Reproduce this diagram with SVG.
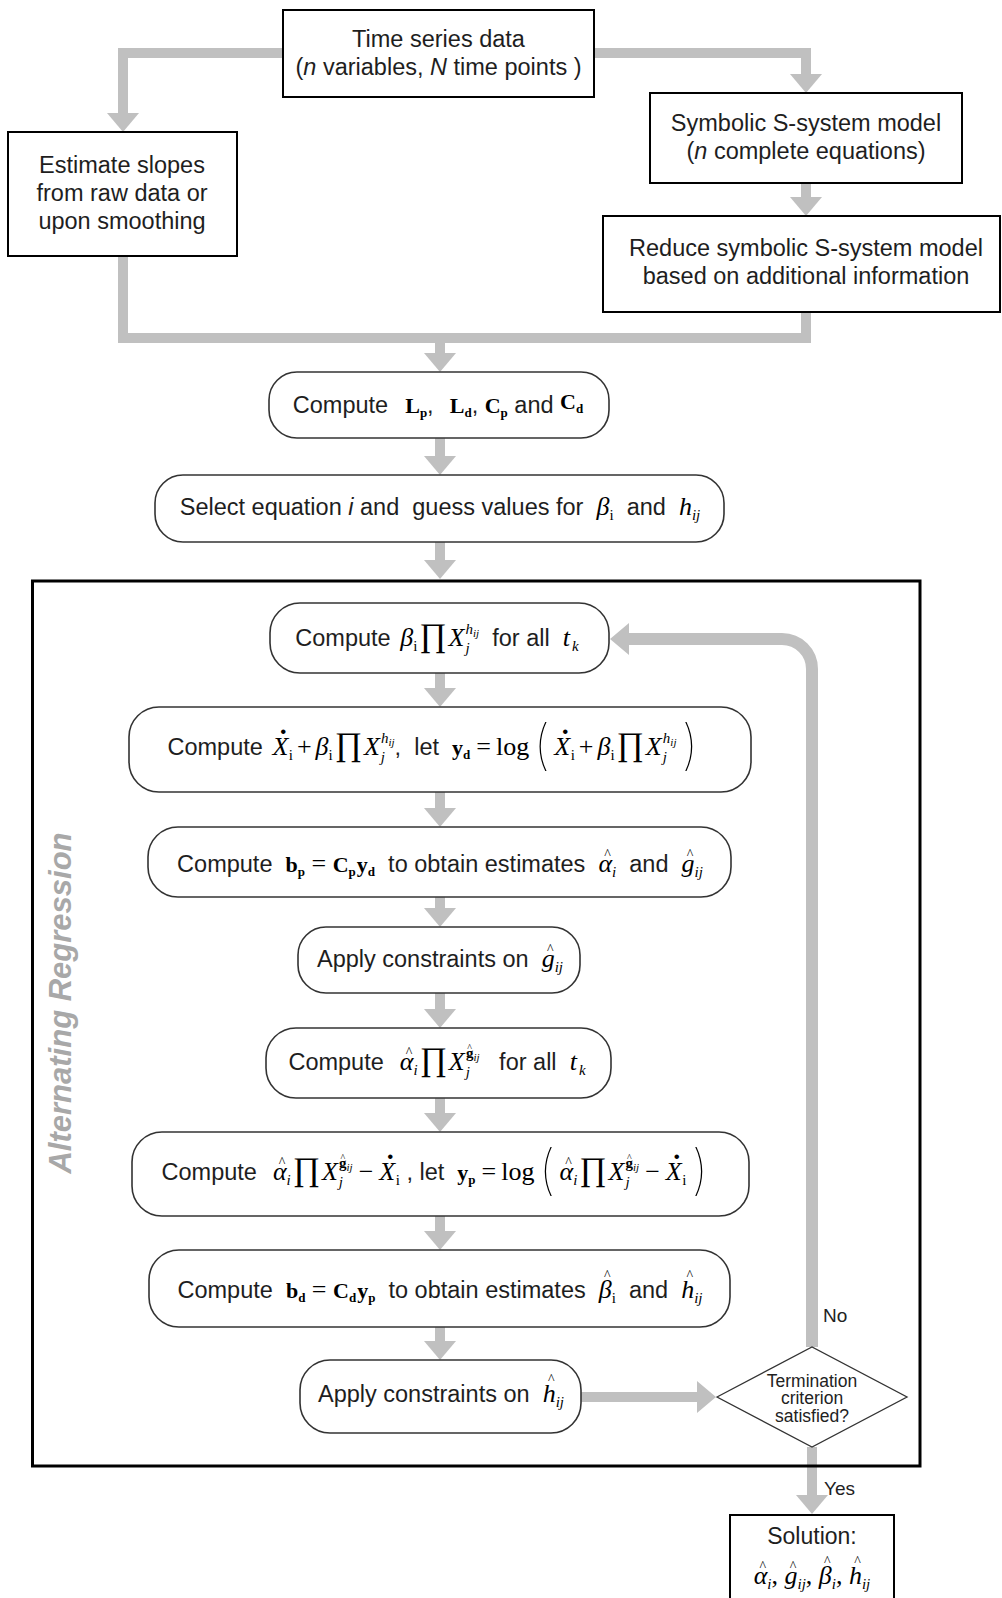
<svg xmlns="http://www.w3.org/2000/svg" width="1002" height="1598" viewBox="0 0 1002 1598">
<defs>
<style>
.box{fill:#fff;stroke:#000;stroke-width:2}
.rbox{fill:#fff;stroke:#333;stroke-width:1.6}
.t{font-family:"Liberation Sans",Arial,sans-serif;font-size:23.5px;fill:#1e1e1e}
.c{text-anchor:middle}
.m{font-family:"Liberation Serif","Times New Roman",serif;font-style:italic;font-weight:normal;font-size:26px;fill:#000}
.r{font-family:"Liberation Serif","Times New Roman",serif;font-style:normal;font-weight:normal;font-size:26px;fill:#000}
.b{font-family:"Liberation Serif","Times New Roman",serif;font-style:normal;font-weight:bold;font-size:22px;fill:#000}
.pi{font-family:"Liberation Serif","Times New Roman",serif;font-style:normal;font-size:33px;fill:#000}
.par{font-family:Inter,"Liberation Sans",sans-serif;font-style:normal;font-weight:100;font-size:54px;fill:#000}
.hat{font-family:"Liberation Serif","Times New Roman",serif;font-style:normal;font-weight:normal;font-size:14px;fill:#000}
.hat2{font-family:"Liberation Serif","Times New Roman",serif;font-style:normal;font-weight:normal;font-size:10px;fill:#000}
.dot{font-family:"Liberation Serif","Times New Roman",serif;font-style:normal;font-weight:bold;font-size:28px;fill:#000}
.s{font-size:15px}
.sb{font-size:13px}
.ss{font-size:11px}
.lbl{font-family:"Liberation Sans",Arial,sans-serif;font-size:19px;fill:#222}
.dia{font-family:"Liberation Sans",Arial,sans-serif;font-size:17.5px;fill:#222;text-anchor:middle}
.conn{fill:none;stroke:#c0c0c0;stroke-width:10;stroke-linejoin:miter}
</style>
<marker id="ah" markerUnits="userSpaceOnUse" viewBox="0 -16 19 32" markerWidth="19" markerHeight="32" refX="0" refY="0" orient="auto" overflow="visible">
<path d="M0,-16 L19,0 L0,16 Z" fill="#c0c0c0"/>
</marker>
</defs>
<rect x="0" y="0" width="1002" height="1598" fill="#fff"/>

<g id="connectors">
<path class="conn" d="M283,53 H123 V113" marker-end="url(#ah)"/>
<path class="conn" d="M594,53 H806 V74" marker-end="url(#ah)"/>
<path class="conn" d="M806,183 V197" marker-end="url(#ah)"/>
<path class="conn" d="M123,256 V338 H806 V312"/>
<path class="conn" d="M440,338 V353" marker-end="url(#ah)"/>
<path class="conn" d="M440,438 V456" marker-end="url(#ah)"/>
<path class="conn" d="M440,542 V560" marker-end="url(#ah)"/>
<path class="conn" d="M440,673 V688" marker-end="url(#ah)"/>
<path class="conn" d="M440,792 V808" marker-end="url(#ah)"/>
<path class="conn" d="M440,897 V908" marker-end="url(#ah)"/>
<path class="conn" d="M440,993 V1009" marker-end="url(#ah)"/>
<path class="conn" d="M440,1098 V1113" marker-end="url(#ah)"/>
<path class="conn" d="M440,1216 V1231" marker-end="url(#ah)"/>
<path class="conn" d="M440,1327 V1341" marker-end="url(#ah)"/>
<path class="conn" d="M581,1397 H697" marker-end="url(#ah)"/>
<path class="conn" style="stroke-width:12" d="M812,1347 V669 A30,30 0 0 0 782,639 H629" marker-end="url(#ah)"/>
<path class="conn" d="M812,1447 V1495" marker-end="url(#ah)"/>
<text class="lbl" x="823" y="1322">No</text>
<text class="lbl" x="824" y="1495">Yes</text>
</g>

<g id="alternating-regression">
<rect x="32.5" y="581" width="887.5" height="885" fill="none" stroke="#000" stroke-width="3"/>
<text transform="translate(71,1003) rotate(-90)" x="0" y="0" text-anchor="middle" style="font-family:'Liberation Sans',Arial,sans-serif;font-size:31px;font-weight:bold;font-style:italic;fill:#a8a8a8">Alternating Regression</text>
</g>

<g id="n-timeseries">
<rect class="box" x="283" y="10" width="311" height="87"/>
<text class="t c" x="438.5" y="47">Time series data</text>
<text class="t c" x="438.5" y="75">(<tspan font-style="italic">n</tspan> variables, <tspan font-style="italic">N</tspan> time points )</text>
</g>

<g id="n-symbolic">
<rect class="box" x="650" y="93" width="312" height="90"/>
<text class="t c" x="806" y="131">Symbolic S-system model</text>
<text class="t c" x="806" y="159">(<tspan font-style="italic">n</tspan> complete equations)</text>
</g>

<g id="n-slopes">
<rect class="box" x="8" y="132" width="229" height="124"/>
<text class="t c" x="122" y="173">Estimate slopes</text>
<text class="t c" x="122" y="201">from raw data or</text>
<text class="t c" x="122" y="229">upon smoothing</text>
</g>

<g id="n-reduce">
<rect class="box" x="603" y="216" width="397" height="96"/>
<text class="t c" x="806" y="256">Reduce symbolic S-system model</text>
<text class="t c" x="806" y="284">based on additional information</text>
</g>

<g id="n-compute-l">
<rect class="rbox" x="269" y="372" width="340" height="66" rx="28"/>
<text class="t c" x="438" y="413" xml:space="preserve">Compute  <tspan class="b" dx="4">L</tspan><tspan class="b sb" dy="4">p</tspan><tspan dy="-4">,  </tspan><tspan class="b" dx="3">L</tspan><tspan class="b sb" dy="4">d</tspan><tspan dy="-4">, </tspan><tspan class="b">C</tspan><tspan class="b sb" dy="4">p</tspan><tspan dy="-4"> and </tspan><tspan class="b" dy="-4">C</tspan><tspan class="b sb" dy="4">d</tspan></text>
</g>

<g id="n-select">
<rect class="rbox" x="155" y="475" width="569" height="67" rx="28"/>
<text class="t c" x="440" y="515" xml:space="preserve">Select equation <tspan font-style="italic">i</tspan> and  guess values for  <tspan class="m">β</tspan><tspan class="r s" dy="5">i</tspan><tspan dy="-5">  and  </tspan><tspan class="m">h</tspan><tspan class="m s" dy="5">ij</tspan></text>
</g>

<g id="n-compute-beta">
<rect class="rbox" x="270" y="603" width="339" height="70" rx="30"/>
<text class="t c" x="437" y="646" xml:space="preserve">Compute <tspan class="m" dx="3">β</tspan><tspan class="r s" dy="5">i</tspan><tspan class="pi" dx="2" dy="-5">∏</tspan><tspan class="m" dx="2">X</tspan><tspan class="m s" dx="1" dy="7">j</tspan><tspan class="m s" dx="-4" dy="-19">h</tspan><tspan class="m ss" dy="3">ij</tspan><tspan dy="9">  for all  </tspan><tspan class="m">t</tspan><tspan class="m s" dx="2" dy="5">k</tspan></text>
</g>

<g id="n-compute-yd">
<rect class="rbox" x="129" y="707" width="622" height="85" rx="30"/>
<text class="t c" x="433" y="755" xml:space="preserve">Compute <tspan class="m" dx="3">X</tspan><tspan class="dot" dx="-8.5" dy="-21">.</tspan><tspan class="r s" dx="2" dy="26">i</tspan><tspan class="r" dx="4" dy="-5">+</tspan><tspan class="m" dx="4">β</tspan><tspan class="r s" dy="5">i</tspan><tspan class="pi" dx="2" dy="-5">∏</tspan><tspan class="m" dx="2">X</tspan><tspan class="m s" dx="1" dy="7">j</tspan><tspan class="m s" dx="-4" dy="-19">h</tspan><tspan class="m ss" dy="3">ij</tspan><tspan dy="9">,  let  </tspan><tspan class="b">y</tspan><tspan class="b sb" dy="4">d</tspan><tspan class="r" dx="6" dy="-4">=</tspan><tspan class="r" dx="5">log</tspan><tspan class="par" dx="4" dy="9">(</tspan><tspan class="m" dx="4" dy="-9">X</tspan><tspan class="dot" dx="-8.5" dy="-21">.</tspan><tspan class="r s" dx="2" dy="26">i</tspan><tspan class="r" dx="4" dy="-5">+</tspan><tspan class="m" dx="4">β</tspan><tspan class="r s" dy="5">i</tspan><tspan class="pi" dx="2" dy="-5">∏</tspan><tspan class="m" dx="2">X</tspan><tspan class="m s" dx="1" dy="7">j</tspan><tspan class="m s" dx="-4" dy="-19">h</tspan><tspan class="m ss" dy="3">ij</tspan><tspan class="par" dx="5" dy="18">)</tspan></text>
</g>

<g id="n-compute-bp">
<rect class="rbox" x="148" y="827" width="583" height="70" rx="30"/>
<text class="t c" x="440" y="872" xml:space="preserve">Compute  <tspan class="b">b</tspan><tspan class="b sb" dy="4">p</tspan><tspan class="r" dy="-4"> = </tspan><tspan class="b">C</tspan><tspan class="b sb" dy="4">p</tspan><tspan class="b" dx="1" dy="-4">y</tspan><tspan class="b sb" dy="4">d</tspan><tspan dy="-4">  to obtain estimates  </tspan><tspan class="m">α</tspan><tspan class="hat" dx="-7.8" dy="-13">^</tspan><tspan class="m s" dx="1.2" dy="18">i</tspan><tspan dy="-5">  and  </tspan><tspan class="m">g</tspan><tspan class="hat" dx="-7.8" dy="-13">^</tspan><tspan class="m s" dx="1.2" dy="18">ij</tspan></text>
</g>

<g id="n-constrain-g">
<rect class="rbox" x="298" y="927" width="282" height="66" rx="28"/>
<text class="t c" x="440" y="967" xml:space="preserve">Apply constraints on  <tspan class="m">g</tspan><tspan class="hat" dx="-7.8" dy="-13">^</tspan><tspan class="m s" dx="1.2" dy="18">ij</tspan></text>
</g>

<g id="n-compute-alpha">
<rect class="rbox" x="266" y="1028" width="345" height="70" rx="30"/>
<text class="t c" x="437" y="1070" xml:space="preserve">Compute  <tspan class="m" dx="3">α</tspan><tspan class="hat" dx="-7.8" dy="-13">^</tspan><tspan class="m s" dx="1.2" dy="18">i</tspan><tspan class="pi" dx="2" dy="-5">∏</tspan><tspan class="m" dx="2">X</tspan><tspan class="m s" dx="1" dy="7">j</tspan><tspan class="b s" dx="-4" dy="-19">g</tspan><tspan class="hat2" dx="-6.1" dy="-7">^</tspan><tspan class="m ss" dx="1.4" dy="10">ij</tspan><tspan dy="9">   for all  </tspan><tspan class="m">t</tspan><tspan class="m s" dx="2" dy="5">k</tspan></text>
</g>

<g id="n-compute-yp">
<rect class="rbox" x="132" y="1132" width="617" height="84" rx="30"/>
<text class="t c" x="435" y="1180" xml:space="preserve">Compute  <tspan class="m" dx="3">α</tspan><tspan class="hat" dx="-7.8" dy="-13">^</tspan><tspan class="m s" dx="1.2" dy="18">i</tspan><tspan class="pi" dx="2" dy="-5">∏</tspan><tspan class="m" dx="2">X</tspan><tspan class="m s" dx="1" dy="7">j</tspan><tspan class="b s" dx="-4" dy="-19">g</tspan><tspan class="hat2" dx="-6.1" dy="-7">^</tspan><tspan class="m ss" dx="1.4" dy="10">ij</tspan><tspan class="r" dx="6" dy="9">−</tspan><tspan class="m" dx="6">X</tspan><tspan class="dot" dx="-8.5" dy="-21">.</tspan><tspan class="r s" dx="2" dy="26">i</tspan><tspan dy="-5"> , let  </tspan><tspan class="b">y</tspan><tspan class="b sb" dy="4">p</tspan><tspan class="r" dx="6" dy="-4">=</tspan><tspan class="r" dx="5">log</tspan><tspan class="par" dx="4" dy="9">(</tspan><tspan class="m" dx="4" dy="-9">α</tspan><tspan class="hat" dx="-7.8" dy="-13">^</tspan><tspan class="m s" dx="1.2" dy="18">i</tspan><tspan class="pi" dx="2" dy="-5">∏</tspan><tspan class="m" dx="2">X</tspan><tspan class="m s" dx="1" dy="7">j</tspan><tspan class="b s" dx="-4" dy="-19">g</tspan><tspan class="hat2" dx="-6.1" dy="-7">^</tspan><tspan class="m ss" dx="1.4" dy="10">ij</tspan><tspan class="r" dx="6" dy="9">−</tspan><tspan class="m" dx="6">X</tspan><tspan class="dot" dx="-8.5" dy="-21">.</tspan><tspan class="r s" dx="2" dy="26">i</tspan><tspan class="par" dx="5" dy="4">)</tspan></text>
</g>

<g id="n-compute-bd">
<rect class="rbox" x="149" y="1250" width="581" height="77" rx="30"/>
<text class="t c" x="440" y="1298" xml:space="preserve">Compute  <tspan class="b">b</tspan><tspan class="b sb" dy="4">d</tspan><tspan class="r" dy="-4"> = </tspan><tspan class="b">C</tspan><tspan class="b sb" dy="4">d</tspan><tspan class="b" dx="1" dy="-4">y</tspan><tspan class="b sb" dy="4">p</tspan><tspan dy="-4">  to obtain estimates  </tspan><tspan class="m">β</tspan><tspan class="hat" dx="-7.8" dy="-18">^</tspan><tspan class="r s" dx="1.2" dy="23">i</tspan><tspan dy="-5">  and  </tspan><tspan class="m">h</tspan><tspan class="hat" dx="-7.8" dy="-18">^</tspan><tspan class="m s" dx="1.2" dy="23">ij</tspan></text>
</g>

<g id="n-constrain-h">
<rect class="rbox" x="300" y="1360" width="281" height="73" rx="30"/>
<text class="t c" x="441" y="1402" xml:space="preserve">Apply constraints on  <tspan class="m">h</tspan><tspan class="hat" dx="-7.8" dy="-18">^</tspan><tspan class="m s" dx="1.2" dy="23">ij</tspan></text>
</g>

<g id="n-termination">
<polygon points="717,1397 812,1347 907,1397 812,1447" fill="#fff" stroke="#333" stroke-width="1.3"/>
<text class="dia" x="812" y="1387">Termination</text>
<text class="dia" x="812" y="1404">criterion</text>
<text class="dia" x="812" y="1422">satisfied?</text>
</g>

<g id="n-solution">
<rect class="box" x="730" y="1515" width="164" height="100"/>
<text class="t c" x="812" y="1544" style="font-size:23px">Solution:</text>
<text class="t c" x="812" y="1584" xml:space="preserve"><tspan class="m">α</tspan><tspan class="hat" dx="-7.8" dy="-13">^</tspan><tspan class="m s" dx="1.2" dy="18">i</tspan><tspan class="r" dy="-5">, </tspan><tspan class="m">g</tspan><tspan class="hat" dx="-7.8" dy="-13">^</tspan><tspan class="m s" dx="1.2" dy="18">ij</tspan><tspan class="r" dy="-5">, </tspan><tspan class="m">β</tspan><tspan class="hat" dx="-7.8" dy="-18">^</tspan><tspan class="m s" dx="1.2" dy="23">i</tspan><tspan class="r" dy="-5">, </tspan><tspan class="m">h</tspan><tspan class="hat" dx="-7.8" dy="-18">^</tspan><tspan class="m s" dx="1.2" dy="23">ij</tspan></text>
</g>
</svg>
